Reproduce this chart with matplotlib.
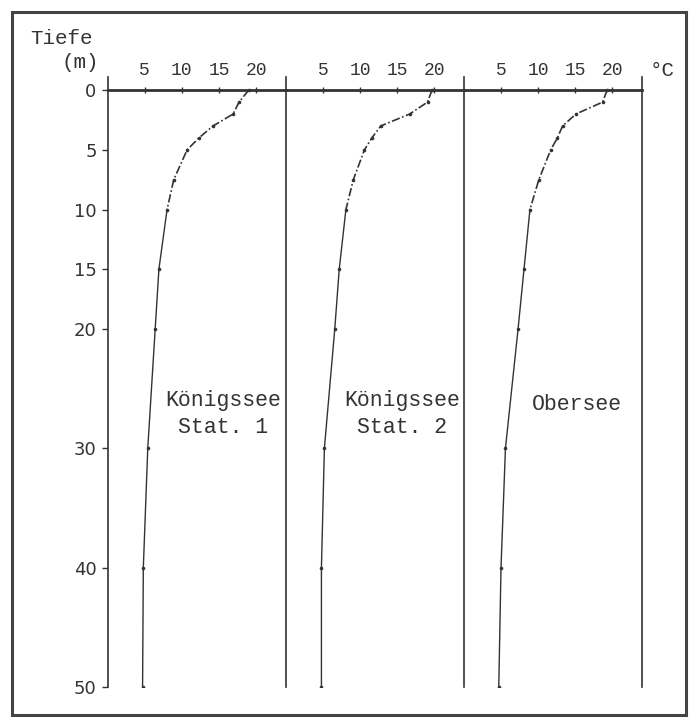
import matplotlib
matplotlib.use("Agg")
import matplotlib.pyplot as plt
from matplotlib.patches import Rectangle

# Data
depths = [0, 1, 2, 3, 4, 5, 7.5, 10, 15, 20, 30, 40, 50]
temp_koenigssee_1 = [19.0, 17.7, 16.9, 14.2, 12.3, 10.7, 8.9, 8.0, 6.9, 6.4, 5.4, 4.8, 4.7]
temp_koenigssee_2 = [19.7, 19.1, 16.7, 12.8, 11.6, 10.6, 9.1, 8.1, 7.2, 6.6, 5.2, 4.8, 4.8]
temp_obersee = [19.3, 18.7, 15.1, 13.3, 12.6, 11.7, 10.1, 8.9, 8.1, 7.3, 5.6, 5.0, 4.7]
series = [temp_koenigssee_1, temp_koenigssee_2, temp_obersee]
labels = ["Königssee\nStat. 1", "Königssee\nStat. 2", "Obersee"]
x_ticks = [5, 10, 15, 20]
y_ticks = [0, 5, 10, 15, 20, 30, 40, 50]

W, H = 689, 723
fig = plt.figure(figsize=(W / 100, H / 100), dpi=100)
fig.patch.set_facecolor("white")

ink = "#333333"
mono = "Liberation Mono"

x0 = 107.7
pw = 178.1
top_px, bot_px = 77, 687
label_pos = [(223, 414), (402, 414), (577, 404)]
split = 7  # index of 10 m: dash-dot above, solid below

for i, temps in enumerate(series):
    left = (x0 + i * pw) / W
    ax = fig.add_axes([left, (H - bot_px) / H, pw / W, (bot_px - top_px) / H])
    ax.set_xlim(0, 24)
    ax.set_ylim(50, -1.1)
    ax.patch.set_alpha(0)
    ax.spines["bottom"].set_visible(False)
    ax.spines["top"].set_position(("data", 0))
    ax.spines["top"].set_linewidth(2.0)
    ax.spines["top"].set_color(ink)
    ax.spines["left"].set_linewidth(1.2)
    ax.spines["left"].set_color(ink)
    ax.spines["right"].set_linewidth(1.2)
    ax.spines["right"].set_color(ink)
    if i < 2:
        ax.spines["right"].set_visible(False)

    ax.xaxis.set_ticks_position("top")
    ax.set_xticks(x_ticks)
    ax.set_xticklabels([str(t) for t in x_ticks], family=mono, fontsize=13, color=ink)
    ax.tick_params(axis="x", direction="inout", length=4, width=1, colors=ink, pad=6)

    if i == 0:
        ax.set_yticks(y_ticks)
        ax.set_yticklabels([str(t) for t in y_ticks], fontsize=13, color=ink)
        ax.tick_params(axis="y", direction="out", length=4, width=1, colors=ink, pad=4)
    else:
        ax.set_yticks([])

    ax.plot(temps[:split + 1], depths[:split + 1], color=ink, lw=1.2,
            linestyle=(0, (5, 1.5, 1, 1.5)))
    ax.plot(temps[split:], depths[split:], color=ink, lw=1.0, linestyle="-")
    ax.plot(temps, depths, linestyle="none", marker="o", markersize=2.6,
            markerfacecolor=ink, markeredgewidth=0)

    lx, ly = label_pos[i]
    fig.text(lx / W, 1 - ly / H, labels[i], family=mono, fontsize=15.5, color=ink,
             ha="center", va="center", linespacing=1.4)

fig.text(30 / W, 1 - 39 / H, "Tiefe", family=mono, fontsize=15, color=ink, ha="left", va="center")
fig.text(80 / W, 1 - 63 / H, "(m)", family=mono, fontsize=15, color=ink, ha="center", va="center")
fig.text(650 / W, 1 - 71 / H, "°C", family=mono, fontsize=15, color=ink, ha="left", va="center")

fig.patches.append(Rectangle((12 / W, 8 / H), (686 - 12) / W, (711 - 8) / H,
                             transform=fig.transFigure, fill=False, edgecolor="#444444",
                             linewidth=2.2))

fig.savefig("out.png", dpi=100, facecolor="white")
